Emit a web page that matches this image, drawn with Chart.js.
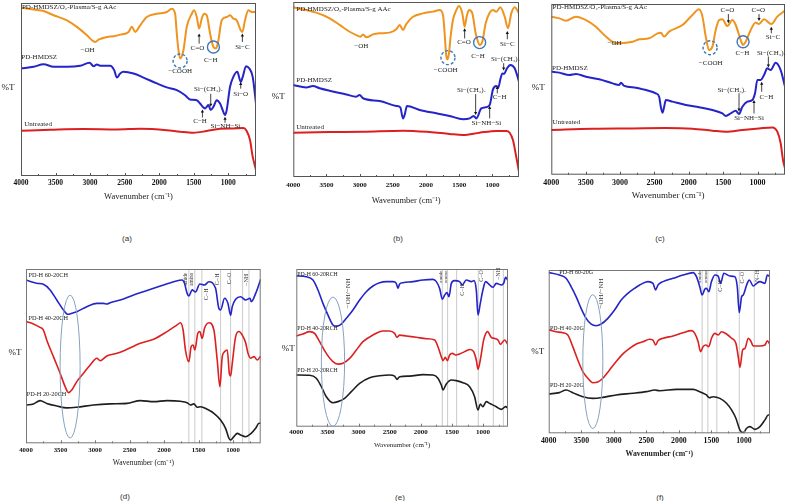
<!DOCTYPE html>
<html>
<head>
<meta charset="utf-8">
<script src="https://cdn.jsdelivr.net/npm/chart.js@4.4.1/dist/chart.umd.min.js"></script>
<style>
  html, body { margin: 0; padding: 0; background: #fff; }
  #page { position: relative; width: 789px; height: 501px; overflow: hidden; }
  canvas { position: absolute; }
  .tag { position: absolute; font: 8px "Liberation Sans", Arial, sans-serif; color: #333; transform: translate(-50%, -50%); }
</style>
</head>
<body>
<div id="page"></div>
<script>
// FTIR spectra, wavenumber (cm-1) and relative %T

// (a)
var aOrangeWn = [4000,3817,3673,3528,3335,3191,3046,2974,2926,2878,2757,2661,2565,2444,2396,2348,2276,2180,2035,1891,1818,1770,1746,1722,1698,1650,1602,1529,1496,1457,1423,1385,1351,1313,1264,1216,1178,1144,1096,1024,976,928,879,821,797,759,711,663,600];
var aOrangeT = [97.3,96.2,95.4,92.9,90.0,86.2,81.3,78.5,77.5,78.8,80.4,80.8,81.7,83.3,86.2,83.3,87.1,91.9,93.8,94.8,96.7,93.8,82.3,72.7,67.9,72.7,86.2,93.8,95.8,91.9,85.2,91.0,93.8,92.9,82.3,74.6,73.7,78.5,90.0,91.9,92.9,91.0,90.0,84.2,83.3,90.0,95.8,94.8,94.8];
var aBlueWn = [4000,3817,3673,3528,3335,3143,3008,2950,2902,2854,2709,2652,2613,2565,2517,2372,2228,2035,1891,1746,1626,1553,1457,1409,1361,1337,1313,1289,1256,1216,1168,1120,1082,1048,1024,976,928,870,821,792,744,696,648,600];
var aBlueT = [62.1,63.1,64.6,63.1,63.1,63.7,65.4,63.5,64.4,63.7,63.7,61.2,56.9,59.2,60.2,59.2,56.9,53.5,51.2,49.6,46.7,44.2,43.8,41.9,39.6,39.0,40.0,41.0,38.1,40.0,43.8,41.9,38.1,35.2,38.1,51.5,57.3,60.2,54.4,57.3,63.5,62.1,57.3,41.9];
var aRedWn = [4000,3576,3095,2613,2276,1891,1698,1505,1313,1120,928,783,735,687,648,600];
var aRedT = [26.2,26.7,27.1,26.9,27.3,26.5,25.6,25.0,26.0,27.3,27.5,27.7,26.0,20.8,11.2,3.5];

// (b)
var bOrangeWn = [4000,3804,3653,3453,3302,3151,3051,2991,2950,2900,2800,2699,2549,2448,2398,2348,2298,2197,2046,1896,1795,1745,1720,1700,1680,1655,1630,1595,1544,1504,1454,1419,1389,1353,1303,1253,1218,1193,1153,1102,1042,992,942,881,816,766,716,665,600];
var bOrangeT = [97.0,95.4,93.9,90.7,86.9,83.0,81.1,80.2,81.5,79.8,81.5,82.1,82.5,84.4,86.9,84.0,87.4,91.6,93.5,94.5,95.4,92.6,82.1,70.7,67.2,70.7,80.2,89.7,95.4,97.7,93.5,85.9,91.6,95.4,93.5,82.1,77.3,75.4,77.3,87.8,93.9,95.4,94.5,97.0,91.6,85.0,93.5,97.0,93.5];
var bBlueWn = [4000,3804,3704,3603,3453,3202,3051,3001,2950,2699,2448,2388,2348,2323,2288,2097,1846,1645,1444,1343,1283,1243,1168,1102,1042,992,942,911,881,851,826,781,731,665,600];
var bBlueT = [52.6,51.2,52.0,50.7,49.3,47.2,45.9,46.9,45.0,43.4,40.6,39.8,33.5,35.4,40.6,38.3,36.4,34.9,33.0,33.5,34.9,33.5,39.2,39.8,41.1,50.1,52.0,51.2,55.8,59.2,58.9,62.1,64.0,62.1,54.5];
var bRedWn = [4000,3453,2950,2348,1946,1645,1444,1193,942,791,741,691,651,600];
var bRedT = [25.3,25.7,25.9,26.5,25.7,24.6,24.0,25.3,26.3,26.3,25.3,21.1,13.5,3.0];

// (c)
var cOrangeWn = [4000,3884,3787,3642,3496,3351,3206,3060,2915,2818,2721,2576,2455,2407,2358,2286,2092,1947,1850,1801,1753,1704,1656,1608,1559,1511,1438,1365,1317,1244,1210,1172,1099,1026,978,905,799,712,600];
var cOrangeT = [92.6,91.6,90.2,92.6,90.6,86.7,80.9,77.0,77.3,77.9,79.3,79.9,82.8,83.2,80.9,83.8,87.7,93.6,96.9,92.6,80.9,73.0,75.0,84.8,90.6,91.0,87.1,90.6,87.7,78.9,76.0,77.9,84.8,89.1,88.3,91.0,88.3,92.6,96.1];
var cBlueWn = [4000,3884,3738,3642,3496,3303,3109,3012,2988,2939,2770,2625,2479,2431,2407,2382,2358,2334,2237,2043,1850,1656,1511,1462,1390,1317,1269,1220,1148,1075,1036,1002,954,905,857,808,736,663,600];
var cBlueT = [60.4,59.8,58.4,59.0,57.4,55.9,53.5,52.5,53.9,52.0,51.0,49.6,47.7,45.7,39.8,36.3,39.8,43.8,42.8,40.8,39.5,37.9,35.9,34.4,35.9,37.5,35.5,39.8,42.8,43.8,47.7,55.5,55.5,58.4,62.3,61.3,65.6,61.3,51.6];
var cRedWn = [4000,3400,2818,2334,1947,1656,1462,1220,978,784,712,663,629,600];
var cRedT = [26.2,26.9,27.1,27.3,26.9,25.8,25.2,26.2,27.1,27.7,25.2,18.4,8.6,3.7];

// (d)
var dBlueWn = [4000,3845,3748,3651,3554,3458,3395,3337,3264,3119,2973,2876,2828,2780,2634,2441,2247,2053,1859,1738,1704,1666,1641,1593,1545,1482,1414,1351,1254,1206,1181,1123,1075,1036,1012,963,891,818,755,736,673,600];
var dBlueT = [93.7,91.8,91.2,88.0,82.2,76.5,74.0,74.6,75.5,78.4,80.3,80.3,79.9,80.7,82.2,85.1,87.6,90.2,92.7,93.7,91.8,86.0,84.5,88.0,86.8,91.4,90.8,92.7,88.9,77.4,76.5,83.2,80.3,73.4,78.4,82.6,84.1,82.2,83.2,81.3,86.0,94.1];
var dRedWn = [4000,3893,3797,3748,3700,3603,3506,3433,3385,3337,3264,3167,3070,2973,2925,2828,2683,2537,2344,2150,1956,1811,1763,1724,1690,1641,1608,1579,1554,1511,1482,1448,1414,1351,1278,1230,1191,1157,1123,1084,1055,1036,1012,963,915,867,818,784,746,697,649,600];
var dRedT = [69.8,68.5,66.5,65.0,59.3,49.7,40.2,32.5,29.1,30.6,35.4,40.2,44.9,48.8,47.4,50.1,51.6,53.9,57.4,59.7,64.1,67.9,69.2,65.0,53.5,46.8,55.4,56.4,53.5,63.1,64.1,60.2,66.0,69.2,65.0,47.8,32.5,49.7,52.6,53.5,40.2,38.6,45.9,61.2,64.1,62.1,57.7,51.6,48.8,49.7,47.8,50.1];
var dBlackWn = [4000,3893,3797,3700,3554,3409,3264,3022,2780,2537,2344,2150,1956,1763,1666,1617,1569,1520,1472,1375,1278,1181,1109,1060,1036,988,939,891,818,746,673,624,600];
var dBlackT = [22.0,22.6,24.5,22.9,21.4,20.3,20.7,22.0,22.6,22.9,24.5,23.9,24.5,24.1,23.3,22.0,22.6,20.7,21.0,19.5,17.2,13.4,8.6,2.9,1.9,3.8,5.7,4.8,3.8,5.4,8.6,11.5,11.5];

// (e)
var eBlueWn = [4000,3839,3732,3652,3572,3491,3411,3358,3277,3197,3090,2983,2876,2769,2662,2554,2447,2394,2367,2340,2287,2126,1965,1805,1751,1698,1655,1617,1580,1548,1510,1457,1377,1334,1270,1189,1146,1109,1082,1045,1003,960,895,842,788,707,670,638,600];
var eBlueT = [95.6,95.1,93.0,86.7,78.2,70.8,64.5,63.8,65.1,68.7,74.0,80.3,85.6,89.2,91.3,92.0,92.0,90.9,87.7,90.5,91.3,92.0,93.0,93.4,92.0,87.7,80.8,83.5,85.0,82.5,90.9,92.6,92.0,89.9,93.0,92.0,92.6,86.7,70.8,78.2,86.7,92.0,89.9,88.4,90.9,89.9,90.9,94.7,92.6];
var eRedWn = [4000,3893,3786,3706,3625,3518,3411,3331,3250,3143,3036,2929,2769,2608,2501,2421,2383,2340,2233,2073,1912,1778,1725,1671,1644,1607,1575,1537,1494,1441,1377,1296,1205,1152,1109,1082,1045,991,928,869,814,761,723,654,600];
var eRedT = [57.5,58.8,60.3,59.2,53.9,46.5,41.2,39.7,40.2,43.3,48.6,53.9,58.1,60.7,60.7,59.2,56.7,58.1,57.5,56.7,55.8,55.0,50.7,44.4,41.9,44.0,41.9,45.5,46.5,45.5,46.1,47.6,49.0,47.6,42.3,36.4,42.3,55.0,60.3,56.7,56.0,55.0,52.2,55.0,51.8];
var eBlackWn = [4000,3786,3679,3598,3518,3411,3331,3224,3117,2983,2822,2662,2501,2421,2383,2340,2180,1965,1805,1725,1671,1644,1591,1510,1430,1323,1216,1136,1082,1045,1003,949,895,788,707,638,600];
var eBlackT = [32.8,32.6,30.7,25.4,19.0,15.2,15.9,18.0,22.2,27.5,31.1,32.3,32.8,32.1,30.0,31.7,32.1,33.0,32.8,30.7,26.4,23.3,27.1,29.6,29.2,27.9,25.4,19.0,10.6,14.4,12.7,15.9,14.8,12.7,11.0,12.7,11.6];

// (f)
var fBlueWn = [4000,3836,3733,3656,3579,3502,3425,3348,3271,3194,3091,2988,2886,2783,2680,2603,2475,2398,2357,2321,2244,2089,1935,1781,1730,1679,1643,1602,1576,1540,1499,1447,1396,1360,1309,1216,1139,1103,1072,1036,1011,959,918,857,805,754,677,641,600];
var fBlueT = [98.4,96.9,94.9,89.8,83.7,76.5,70.4,66.9,65.9,66.9,70.4,75.5,81.6,85.7,88.8,90.8,92.9,91.8,87.8,90.8,92.9,94.9,96.9,98.4,95.9,89.8,84.7,88.2,88.8,86.7,92.9,96.9,96.3,91.8,98.0,96.3,95.9,89.8,73.9,83.7,84.7,90.8,93.9,90.2,91.8,92.9,91.8,96.9,95.9];
var fRedWn = [4000,3887,3784,3707,3630,3553,3476,3399,3322,3245,3168,3065,2963,2860,2757,2654,2552,2449,2398,2357,2321,2244,2089,1935,1807,1756,1704,1668,1627,1586,1540,1499,1447,1396,1345,1268,1191,1124,1088,1062,1021,985,933,897,857,754,677,641,600];
var fRedT = [63.3,62.2,61.6,60.2,53.1,44.9,37.8,33.7,31.0,31.4,33.7,38.8,43.9,48.6,52.0,54.7,56.1,57.6,57.1,54.1,56.7,58.2,59.6,61.6,62.9,61.2,56.1,50.0,53.1,54.1,53.1,58.2,61.2,60.2,62.2,60.8,58.2,55.1,46.9,40.4,51.0,52.0,58.2,56.7,53.5,53.5,54.1,56.7,54.1];
var fBlackWn = [4000,3836,3733,3630,3476,3322,3168,2963,2706,2500,2372,2295,2038,1781,1679,1627,1576,1535,1473,1370,1268,1191,1124,1062,1011,959,908,831,754,677,626,600];
var fBlackT = [24.1,24.9,26.5,24.9,22.4,21.4,22.0,23.5,24.5,25.5,26.5,26.1,26.9,26.9,25.5,24.5,23.5,21.8,22.4,21.4,18.4,14.3,9.2,2.0,0.4,3.1,4.1,2.4,4.1,8.2,11.2,11.2];

var tickValues = [4000,3500,3000,2500,2000,1500,1000];
var tickMarks = [3750,3500,3250,3000,2750,2500,2250,2000,1750,1500,1250,1000,750];

var SERIF = '"Liberation Serif", "Times New Roman", serif';
var ORANGE = '#ee941f', BLUE = '#2424c8', RED = '#dc2020', BLACK = '#1e1e1e';

var panels = [
  { tag: '(a)', tagX: 127, tagY: 238, cx: 0, cy: 0, w: 263, h: 215, box: [21, 3, 256, 176],
    tickY: 183, tickSize: 7.5, titleY: 197, titleSize: 8.5, titleBold: false, lw: 2, frame: '#555',
    pct: { dx: 13, t: 50.9 },
    series: [[aOrangeWn, aOrangeT, ORANGE], [aBlueWn, aBlueT, BLUE], [aRedWn, aRedT, RED]],
    vlines: [],
    notes: [
      { text: 'PD-HMDSZ/O₂-Plasma/S-g AAc', wn: 3986, t: 97.7, align: 'left' },
      { text: 'PD-HMDSZ', wn: 3995, t: 68.5, align: 'left' },
      { text: 'Untreated', wn: 3952, t: 29.8, align: 'left' },
      { text: '−OH', wn: 3037, t: 72.7 },
      { circle: true, dash: true, wn: 1698, t: 66.5, r: 7 },
      { text: '−COOH', wn: 1698, t: 60.8 },
      { text: 'C=O', wn: 1448, t: 74.0 },
      { arrow: true, wn: 1423, from: 76.5, to: 82.3 },
      { circle: true, wn: 1216, t: 74.6, r: 6 },
      { text: 'C−H', wn: 1255, t: 66.9 },
      { text: 'Si−C', wn: 797, t: 74.6 },
      { arrow: true, wn: 797, from: 77.5, to: 82.3 },
      { text: 'Si−(CH₃)ₓ', wn: 1289, t: 50.0 },
      { arrow: true, wn: 1255, from: 47.5, to: 40.0 },
      { text: 'Si−O', wn: 821, t: 47.3 },
      { arrow: true, wn: 821, from: 50.5, to: 54.4 },
      { text: 'C−H', wn: 1409, t: 31.9 },
      { arrow: true, wn: 1375, from: 33.8, to: 38.5 },
      { text: 'Si−NH−Si', wn: 1043, t: 28.8 },
      { arrow: true, wn: 1048, from: 30.8, to: 34.2 }
    ] },
  { tag: '(b)', tagX: 398, tagY: 238, cx: 263, cy: 0, w: 263, h: 215, box: [293.3, 2, 519, 177],
    tickY: 185.5, tickSize: 7, titleY: 201, titleSize: 8.5, titleBold: false, lw: 2, frame: '#555',
    pct: { dx: 15, t: 45.7 },
    series: [[bOrangeWn, bOrangeT, ORANGE], [bBlueWn, bBlueT, BLUE], [bRedWn, bRedT, RED]],
    vlines: [],
    notes: [
      { text: 'PD-HMDSZ/O₂-Plasma/S-g AAc', wn: 3955, t: 95.8, align: 'left' },
      { text: 'PD-HMDSZ', wn: 3955, t: 55.4, align: 'left' },
      { text: 'Untreated', wn: 3955, t: 28.4, align: 'left' },
      { text: '−OH', wn: 2976, t: 74.5 },
      { circle: true, dash: true, wn: 1670, t: 68.2, r: 7 },
      { text: '−COOH', wn: 1705, t: 60.8 },
      { text: 'C=O', wn: 1429, t: 76.8 },
      { arrow: true, wn: 1419, from: 79.2, to: 85.0 },
      { circle: true, wn: 1193, t: 76.8, r: 6 },
      { text: 'C−H', wn: 1218, t: 69.1 },
      { text: 'Si−C', wn: 776, t: 76.0 },
      { arrow: true, wn: 776, from: 78.7, to: 83.5 },
      { text: 'Si−(CH₃)ₓ', wn: 805, t: 67.2 },
      { arrow: true, wn: 831, from: 65.0, to: 60.8 },
      { text: 'C−H', wn: 891, t: 45.5 },
      { arrow: true, wn: 927, from: 47.8, to: 52.0 },
      { text: 'Si−(CH₃)ₓ', wn: 1318, t: 49.7 },
      { arrow: true, wn: 1253, from: 47.4, to: 35.4 },
      { text: 'Si−NH−Si', wn: 1092, t: 30.7 },
      { arrow: true, wn: 1042, from: 33.5, to: 40.6 }
    ] },
  { tag: '(c)', tagX: 660, tagY: 238, cx: 526, cy: 0, w: 263, h: 215, box: [551.3, 4, 785, 174.7],
    tickY: 183, tickSize: 8, titleY: 196, titleSize: 9, titleBold: false, lw: 2, frame: '#555',
    pct: { dx: 13, t: 50.8 },
    series: [[cOrangeWn, cOrangeT, ORANGE], [cBlueWn, cBlueT, BLUE], [cRedWn, cRedT, RED]],
    vlines: [],
    notes: [
      { text: 'PD-HMDSZ/O₂-Plasma/S-g AAc', wn: 3981, t: 98.0, align: 'left' },
      { text: 'PD-HMDSZ', wn: 3990, t: 62.3, align: 'left' },
      { text: 'Untreated', wn: 3981, t: 30.5, align: 'left' },
      { text: '−OH', wn: 3080, t: 77.0 },
      { circle: true, dash: true, wn: 1690, t: 74.4, r: 7 },
      { text: '−COOH', wn: 1680, t: 65.6 },
      { text: 'C=O', wn: 1438, t: 96.5 },
      { arrow: true, wn: 1424, from: 94.1, to: 88.7 },
      { circle: true, wn: 1210, t: 77.9, r: 6 },
      { text: 'C−H', wn: 1220, t: 71.1 },
      { text: 'C=O', wn: 988, t: 96.5 },
      { arrow: true, wn: 978, from: 94.1, to: 90.0 },
      { text: 'Si−C', wn: 775, t: 80.5 },
      { arrow: true, wn: 799, from: 82.8, to: 86.7 },
      { text: 'Si−(CH₃)ₓ', wn: 800, t: 71.1 },
      { arrow: true, wn: 842, from: 69.1, to: 62.8 },
      { text: 'C−H', wn: 871, t: 45.7 },
      { arrow: true, wn: 939, from: 48.6, to: 54.5 },
      { text: 'Si−(CH₃)ₓ', wn: 1375, t: 49.6 },
      { arrow: true, wn: 1269, from: 47.7, to: 37.0 },
      { text: 'Si−NH−Si', wn: 1123, t: 33.4 },
      { arrow: true, wn: 1051, from: 35.9, to: 43.8 }
    ] },
  { tag: '(d)', tagX: 125, tagY: 496, cx: 0, cy: 260, w: 263, h: 215, box: [26, 269, 260.7, 443.3],
    tickY: 450, tickSize: 6.8, titleY: 463, titleSize: 7.5, titleBold: false, lw: 1.6, frame: '#777',
    pct: { dx: 11, t: 51.8 },
    series: [[dBlueWn, dBlueT, BLUE], [dRedWn, dRedT, RED], [dBlackWn, dBlackT, BLACK]],
    vlines: [1641, 1554, 1453, 1181, 1036, 862, 770],
    notes: [
      { text: 'PD-H 60-20CH', wn: 3965, t: 96.6, align: 'left', size: 6.3 },
      { text: 'PD-H 40-20CH', wn: 3965, t: 71.7, align: 'left', size: 6.3 },
      { text: 'PD-H 20-20CH', wn: 3990, t: 28.3, align: 'left', size: 6.3 },
      { text: 'amide', wn: 1690, t: 94.1, rot: true, size: 5.2 },
      { text: 'amino', wn: 1603, t: 94.1, rot: true, size: 5.2 },
      { text: 'C−H', wn: 1385, t: 85.5, rot: true, size: 6 },
      { text: 'C−H', wn: 1220, t: 94.1, rot: true, size: 6 },
      { text: 'C−O', wn: 1060, t: 94.6, rot: true, size: 6 },
      { text: '−NH', wn: 804, t: 93.7, rot: true, size: 6 },
      { ellipse: true, wn: 3361, t: 44, rwn: 145, rt: 41 }
    ] },
  { tag: '(e)', tagX: 400, tagY: 497, cx: 263, cy: 260, w: 263, h: 215, box: [296.3, 269, 508, 426.7],
    tickY: 431.7, tickSize: 7, titleY: 445, titleSize: 7, titleBold: false, lw: 1.6, frame: '#777',
    pct: { dx: 8, t: 49.3 },
    series: [[eBlueWn, eBlueT, BLUE], [eRedWn, eRedT, RED], [eBlackWn, eBlackT, BLACK]],
    vlines: [1655, 1570, 1425, 1077, 836, 675],
    notes: [
      { text: 'PD-H 60-20RCH', wn: 3984, t: 96.8, align: 'left', size: 5.8 },
      { text: 'PD-H 40-20RCH', wn: 3984, t: 62.4, align: 'left', size: 5.8 },
      { text: 'PD-H 20-20RCH', wn: 3984, t: 35.9, align: 'left', size: 5.8 },
      { text: 'amide', wn: 1687, t: 95.1, rot: true, size: 5 },
      { text: 'amino', wn: 1601, t: 95.1, rot: true, size: 5 },
      { text: 'C−H', wn: 1334, t: 86.7, rot: true, size: 6 },
      { text: 'C−O', wn: 1029, t: 95.6, rot: true, size: 6 },
      { text: '−NH', wn: 756, t: 96.8, rot: true, size: 6 },
      { text: '−OH/−NH', wn: 3170, t: 84.6, rot: true, size: 7 },
      { ellipse: true, wn: 3411, t: 41.2, rwn: 187, rt: 41 }
    ] },
  { tag: '(f)', tagX: 660, tagY: 497, cx: 526, cy: 260, w: 263, h: 215, box: [548.7, 270, 770, 433.3],
    tickY: 440.7, tickSize: 7.8, titleY: 454, titleSize: 7.8, titleBold: true, lw: 1.6, frame: '#777',
    pct: { dx: 11, t: 49.8 },
    series: [[fBlueWn, fBlueT, BLUE], [fRedWn, fRedT, RED], [fBlackWn, fBlackT, BLACK]],
    vlines: [1643, 1555, 1417, 1072, 841],
    notes: [
      { text: 'PD-H 60-20G', wn: 3836, t: 98.4, align: 'left', size: 6 },
      { text: 'PD-H 40-20G', wn: 3980, t: 64.3, align: 'left', size: 6 },
      { text: 'PD-H 20-20G', wn: 3980, t: 29.6, align: 'left', size: 6 },
      { text: 'amide', wn: 1679, t: 95.9, rot: true, size: 5 },
      { text: 'amino', wn: 1586, t: 95.9, rot: true, size: 5 },
      { text: 'C−H', wn: 1360, t: 90.2, rot: true, size: 6 },
      { text: 'C−O', wn: 1021, t: 95.3, rot: true, size: 6 },
      { text: 'N−H', wn: 795, t: 96.3, rot: true, size: 6 },
      { text: '−OH/−NH', wn: 3194, t: 85.7, rot: true, size: 7 },
      { ellipse: true, wn: 3322, t: 43.9, rwn: 154, rt: 41 }
    ] }
];

// draws frame, inward ticks, marker lines, labels, arrows and circles in data units
function makeDeco(p) {
  return {
    id: 'deco',
    beforeDatasetsDraw: function(chart) {
      var ctx = chart.ctx, a = chart.chartArea, x = chart.scales.x;
      ctx.save();
      ctx.strokeStyle = '#c4c4c4';
      ctx.lineWidth = 0.9;
      p.vlines.forEach(function(w) {
        var px = x.getPixelForValue(w);
        ctx.beginPath(); ctx.moveTo(px, a.top); ctx.lineTo(px, a.bottom); ctx.stroke();
      });
      ctx.restore();
    },
    afterDatasetsDraw: function(chart) {
      var ctx = chart.ctx, a = chart.chartArea, x = chart.scales.x, y = chart.scales.y;
      ctx.save();
      ctx.strokeStyle = p.frame;
      ctx.lineWidth = 1;
      ctx.strokeRect(a.left + 0.5, a.top + 0.5, a.right - a.left - 1, a.bottom - a.top - 1);
      tickMarks.forEach(function(w) {
        var px = Math.round(x.getPixelForValue(w)) + 0.5;
        var len = (w % 500 === 0) ? 3 : 2;
        ctx.beginPath(); ctx.moveTo(px, a.bottom); ctx.lineTo(px, a.bottom - len); ctx.stroke();
      });

      ctx.fillStyle = '#222';
      ctx.font = '9px ' + SERIF;
      ctx.textAlign = 'center';
      ctx.textBaseline = 'middle';
      ctx.fillText('%T', a.left - p.pct.dx, y.getPixelForValue(p.pct.t));

      p.notes.forEach(function(n) {
        var px = x.getPixelForValue(n.wn);
        if (n.text) {
          var py = y.getPixelForValue(n.t);
          ctx.save();
          ctx.fillStyle = n.rot ? '#333' : '#222';
          ctx.font = (n.size || 7) + 'px ' + SERIF;
          ctx.textBaseline = 'middle';
          ctx.textAlign = n.align || 'center';
          ctx.translate(px, py);
          if (n.rot) ctx.rotate(-Math.PI / 2);
          ctx.fillText(n.text, 0, 0);
          ctx.restore();
        } else if (n.arrow) {
          var y1 = y.getPixelForValue(n.from), y2 = y.getPixelForValue(n.to);
          var dir = y2 < y1 ? -1 : 1;
          ctx.save();
          ctx.strokeStyle = '#111'; ctx.fillStyle = '#111'; ctx.lineWidth = 0.8;
          ctx.beginPath(); ctx.moveTo(px, y1); ctx.lineTo(px, y2 - dir * 2); ctx.stroke();
          ctx.beginPath(); ctx.moveTo(px, y2); ctx.lineTo(px - 1.6, y2 - dir * 3); ctx.lineTo(px + 1.6, y2 - dir * 3); ctx.closePath(); ctx.fill();
          ctx.restore();
        } else if (n.circle) {
          ctx.save();
          ctx.strokeStyle = '#3f78b4'; ctx.lineWidth = 1.4;
          if (n.dash) ctx.setLineDash([3, 2]);
          ctx.beginPath(); ctx.arc(px, y.getPixelForValue(n.t), n.r, 0, Math.PI * 2); ctx.stroke();
          ctx.restore();
        } else if (n.ellipse) {
          var cy = y.getPixelForValue(n.t);
          var rx = Math.abs(x.getPixelForValue(n.wn + n.rwn) - px);
          var ry = Math.abs(y.getPixelForValue(n.t + n.rt) - cy);
          ctx.save();
          ctx.strokeStyle = '#86a2bf'; ctx.lineWidth = 1;
          ctx.beginPath(); ctx.ellipse(px, cy, rx, ry, 0, 0, Math.PI * 2); ctx.stroke();
          ctx.restore();
        }
      });
      ctx.restore();
    }
  };
}

var page = document.getElementById('page');

panels.forEach(function(p) {
  var L = p.box[0], T = p.box[1], R = p.box[2], B = p.box[3];
  var axisH = p.cy + p.h - B;
  var tickLH = p.tickSize * 1.2, titleLH = p.titleSize * 1.2;

  var canvas = document.createElement('canvas');
  canvas.width = p.w; canvas.height = p.h;
  canvas.style.left = p.cx + 'px'; canvas.style.top = p.cy + 'px';
  canvas.style.width = p.w + 'px'; canvas.style.height = p.h + 'px';
  page.appendChild(canvas);

  var tag = document.createElement('div');
  tag.className = 'tag';
  tag.textContent = p.tag;
  tag.style.left = p.tagX + 'px'; tag.style.top = p.tagY + 'px';
  page.appendChild(tag);

  new Chart(canvas.getContext('2d'), {
    type: 'line',
    data: {
      datasets: p.series.map(function(s) {
        return {
          data: s[0].map(function(w, i) { return { x: w, y: s[1][i] }; }),
          borderColor: s[2],
          borderWidth: p.lw,
          pointRadius: 0,
          fill: false,
          cubicInterpolationMode: 'monotone'
        };
      })
    },
    options: {
      responsive: false,
      animation: false,
      devicePixelRatio: 1,
      layout: { padding: { left: L - p.cx, top: T - p.cy, right: p.cx + p.w - R, bottom: 0 } },
      plugins: { legend: { display: false }, tooltip: { enabled: false } },
      scales: {
        x: {
          type: 'linear', reverse: true, min: 600, max: 4000,
          grid: { display: false, drawTicks: false },
          border: { display: false },
          ticks: {
            autoSkip: false, maxRotation: 0, color: '#111',
            padding: p.tickY - B - tickLH / 2,
            font: { family: SERIF, size: p.tickSize, weight: 'bold' },
            callback: function(v) { return String(v); }
          },
          afterBuildTicks: function(s) { s.ticks = tickValues.map(function(v) { return { value: v }; }); },
          afterFit: function(s) { s.height = axisH; },
          title: {
            display: true, text: 'Wavenumber (cm⁻¹)', color: '#222',
            font: { family: SERIF, size: p.titleSize, weight: p.titleBold ? 'bold' : 'normal' },
            padding: { top: 0, bottom: p.cy + p.h - p.titleY - titleLH / 2 }
          }
        },
        y: { display: false, min: 0, max: 100 }
      }
    },
    plugins: [makeDeco(p)]
  });
});
</script>
</body>
</html>
